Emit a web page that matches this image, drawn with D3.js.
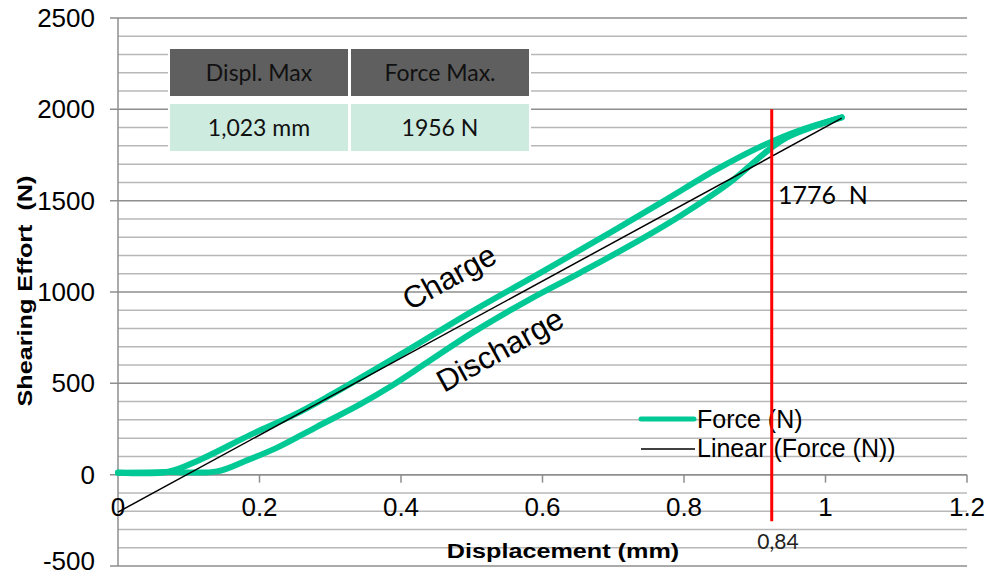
<!DOCTYPE html>
<html lang="en">
<head>
<meta charset="utf-8" />
<script src="https://d3js.org/d3.v7.min.js"></script>
<style>
  html, body { margin: 0; padding: 0; background: #fff; }
  svg { display: block; }
</style>
</head>
<body>
<svg id="canvas" width="988" height="576"></svg>
<script>
// charge branch (loading)
var chargeDispl = [0, 0.071, 0.116, 0.187, 0.25, 0.297, 0.4, 0.5, 0.6, 0.70, 0.77, 0.841, 0.879, 0.919, 0.96, 1.023];
var chargeForce = [12, 16, 82, 218, 330, 428, 660, 893, 1112, 1335, 1495, 1660, 1740, 1815, 1880, 1956];
// discharge branch (unloading)
var dischargeDispl = [0, 0.07, 0.14, 0.18, 0.225, 0.281, 0.342, 0.384, 0.441, 0.5, 0.582, 0.653, 0.724, 0.794, 0.865, 0.919, 0.945, 0.983, 1.023];
var dischargeForce = [10, 14, 18, 75, 148, 262, 385, 480, 625, 775, 960, 1105, 1255, 1415, 1600, 1776, 1845, 1905, 1956];
// linear trendline
var trendIntercept = -205;
var trendSlope = 2108;
var trendRange = [0, 1.023];
// marker
var markerDispl = 0.924;
var markerTop = 2000;
var markerBottom = -255;
var markerForceLabel = "1776  N";
var markerDisplLabel = "0,84";
// table
var tableHeaders = ["Displ. Max", "Force Max."];
var tableValues = ["1,023 mm", "1956 N"];
// ticks
var xTicks = [0, 0.2, 0.4, 0.6, 0.8, 1, 1.2];
var xTickLabels = ["0", "0.2", "0.4", "0.6", "0.8", "1", "1.2"];
var yTicks = [-500, 0, 500, 1000, 1500, 2000, 2500];

var svg = d3.select("#canvas");
var x = d3.scaleLinear().domain([0, 1.2]).range([118, 967]);
var y = d3.scaleLinear().domain([-500, 2500]).range([566, 18]);
var arial = "Liberation Sans, Arial, sans-serif";
var calibri = "Lato, Open Sans, sans-serif";

// grid
var minor = d3.range(-500, 2501, 100);
svg.append("g").selectAll("line").data(minor).enter().append("line")
  .attr("x1", function(d){ return d % 500 === 0 ? 110 : 118; })
  .attr("x2", 967)
  .attr("y1", function(d){ return y(d); }).attr("y2", function(d){ return y(d); })
  .attr("stroke", function(d){ return d % 500 === 0 ? "#8e8e8e" : "#b8b8b8"; })
  .attr("stroke-width", 1.5);

// y axis line
svg.append("line").attr("x1", 118).attr("x2", 118).attr("y1", y(2500)).attr("y2", y(-500))
  .attr("stroke", "#8e8e8e").attr("stroke-width", 1.5);
// x axis at 0 with ticks
svg.append("line").attr("x1", x(0)).attr("x2", x(1.2)).attr("y1", y(0)).attr("y2", y(0))
  .attr("stroke", "#8e8e8e").attr("stroke-width", 1.5);
svg.append("g").selectAll("line").data(xTicks.slice(1)).enter().append("line")
  .attr("x1", function(d){ return x(d); }).attr("x2", function(d){ return x(d); })
  .attr("y1", y(0)).attr("y2", y(0) + 8)
  .attr("stroke", "#8e8e8e").attr("stroke-width", 1.5);

// tick labels
svg.append("g").selectAll("text").data(yTicks).enter().append("text")
  .attr("x", 95).attr("y", function(d){ return Math.min(y(d) + 9, 570); })
  .attr("text-anchor", "end")
  .style("font-family", arial).style("font-size", "26px")
  .text(function(d){ return d; });
svg.append("g").selectAll("text").data(xTicks).enter().append("text")
  .attr("x", function(d){ return x(d); }).attr("y", 516)
  .attr("text-anchor", "middle")
  .style("font-family", arial).style("font-size", "26px")
  .text(function(d, i){ return xTickLabels[i]; });

// axis titles
svg.append("text")
  .attr("transform", "translate(563,558) scale(1.2,1)")
  .attr("text-anchor", "middle")
  .style("font-family", arial).style("font-size", "21px").style("font-weight", "bold")
  .text("Displacement (mm)");
svg.append("text")
  .attr("transform", "translate(32,291) rotate(-90) scale(1.2,1)")
  .attr("text-anchor", "middle")
  .style("font-family", arial).style("font-size", "21px").style("font-weight", "bold")
  .style("white-space", "pre")
  .text("Shearing Effort  (N)");

// table
var cellW = 178, cellH = 47;
var tx = [170, 351], ty = [49, 104];
svg.append("rect").attr("x", 168).attr("y", 47).attr("width", 363).attr("height", 106).attr("fill", "#fff");
tableHeaders.forEach(function(h, i){
  svg.append("rect").attr("x", tx[i]).attr("y", ty[0]).attr("width", cellW).attr("height", cellH).attr("fill", "#5f5f5f");
  svg.append("text").attr("x", tx[i] + cellW / 2).attr("y", ty[0] + 32).attr("text-anchor", "middle")
    .style("font-family", calibri).style("font-size", "23px").attr("fill", "#111").text(h);
  svg.append("rect").attr("x", tx[i]).attr("y", ty[1]).attr("width", cellW).attr("height", cellH).attr("fill", "#cdebdf");
  svg.append("text").attr("x", tx[i] + cellW / 2).attr("y", ty[1] + 32).attr("text-anchor", "middle")
    .style("font-family", calibri).style("font-size", "23px").attr("fill", "#111").text(tableValues[i]);
});

// curves
var line = d3.line().x(function(d){ return x(d[0]); }).y(function(d){ return y(d[1]); }).curve(d3.curveCatmullRom.alpha(0.5));
var green = "#00c995";
[[chargeDispl, chargeForce], [dischargeDispl, dischargeForce]].forEach(function(s){
  svg.append("path").datum(d3.zip(s[0], s[1])).attr("d", line)
    .attr("fill", "none").attr("stroke", green).attr("stroke-width", 6).attr("stroke-linecap", "round").attr("stroke-linejoin", "round");
});

// trendline
svg.append("line")
  .attr("x1", x(trendRange[0])).attr("y1", y(trendIntercept + trendSlope * trendRange[0]))
  .attr("x2", x(trendRange[1])).attr("y2", y(trendIntercept + trendSlope * trendRange[1]))
  .attr("stroke", "#000").attr("stroke-width", 1.5);

// annotations
svg.append("text").attr("transform", "translate(410,311) rotate(-29)")
  .style("font-family", arial).style("font-size", "31px").text("Charge");
svg.append("text").attr("transform", "translate(444,393) rotate(-29)")
  .style("font-family", arial).style("font-size", "31px").text("Discharge");
svg.append("text").attr("x", 778).attr("y", 204).style("white-space", "pre")
  .style("font-family", calibri).style("font-size", "25px").text(markerForceLabel);
svg.append("text").attr("x", 778).attr("y", 549).attr("text-anchor", "middle")
  .style("font-family", calibri).style("font-size", "21px").attr("fill", "#222").text(markerDisplLabel);

// legend
svg.append("line").attr("x1", 641).attr("x2", 694).attr("y1", 419).attr("y2", 419)
  .attr("stroke", green).attr("stroke-width", 5).attr("stroke-linecap", "round");
svg.append("line").attr("x1", 641).attr("x2", 695).attr("y1", 449).attr("y2", 449)
  .attr("stroke", "#000").attr("stroke-width", 1.5);
svg.append("text").attr("x", 697).attr("y", 428)
  .style("font-family", arial).style("font-size", "25px").text("Force (N)");
svg.append("text").attr("x", 697).attr("y", 457)
  .style("font-family", arial).style("font-size", "25px").text("Linear (Force (N))");

// red marker line
svg.append("line").attr("x1", x(markerDispl)).attr("x2", x(markerDispl))
  .attr("y1", y(markerTop)).attr("y2", y(markerBottom))
  .attr("stroke", "#ff0000").attr("stroke-width", 3);
</script>
</body>
</html>
